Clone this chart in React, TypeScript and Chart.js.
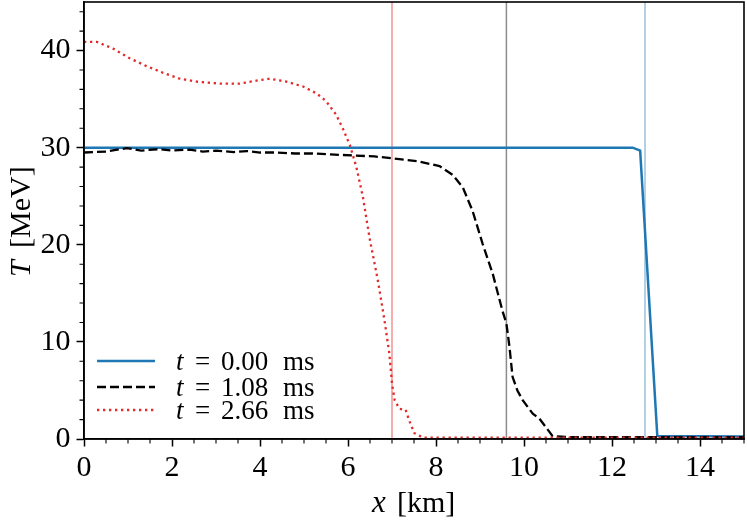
import { useEffect, useRef } from 'react';
import { Chart, registerables } from 'chart.js';

Chart.register(...registerables);

// t = 0.00 ms
const blueX = [0, 12.47, 12.64, 13.03, 15];
const blueY = [30, 30, 29.7, 0.3, 0.25];

// t = 1.08 ms
const blackX = [
  0, 0.5, 0.97, 1.3, 1.7, 2.0, 2.4, 2.7, 3.0, 3.4, 3.7, 4.0, 4.4, 4.8, 5.2, 5.6, 6.1, 6.6, 7.0,
  7.6, 8.08, 8.38, 8.61, 8.83, 9.06, 9.29, 9.51, 9.6, 9.67, 9.74, 9.85, 9.97, 10.2, 10.35, 10.5,
  10.65, 11, 15,
];
const blackY = [
  29.5, 29.6, 29.95, 29.7, 29.85, 29.7, 29.8, 29.6, 29.7, 29.55, 29.65, 29.5, 29.5, 29.4, 29.4,
  29.3, 29.2, 29.1, 28.9, 28.6, 28.1, 27.2, 25.9, 23.5, 20.1, 17.0, 13.2, 11.9, 9.5, 6.4, 5.0,
  4.0, 2.6, 2.1, 1.2, 0.3, 0.2, 0.2,
];

// t = 2.66 ms
const redX = [
  0, 0.29, 0.66, 1.04, 1.42, 1.8, 2.18, 2.56, 3.09, 3.54, 3.92, 4.22, 4.6, 4.98, 5.28, 5.5, 5.73,
  5.88, 6.04, 6.19, 6.34, 6.49, 6.68, 6.83, 6.94, 7.0, 7.06, 7.17, 7.31, 7.4, 7.51, 7.7, 15,
];
const redY = [
  40.9, 40.9, 40.2, 39.2, 38.4, 37.7, 37.1, 36.8, 36.6, 36.6, 36.9, 37.1, 36.8, 36.3, 35.6, 34.8,
  33.4, 32.0, 30.3, 28.0, 24.9, 20.7, 16.3, 12.2, 8.8, 5.7, 4.0, 3.1, 3.0, 1.8, 0.6, 0.15, 0.15,
];

// shock front positions (vertical lines)
const markerX = [7.0, 9.6, 12.75];
const markerColors = ['rgba(230,40,40,0.5)', 'rgba(0,0,0,0.45)', 'rgba(31,119,180,0.45)'];

const legendTimes = ['0.00', '1.08', '2.66'];
const seriesColors = ['#1f77b4', '#000000', '#e32b2b'];
const seriesDash = [[], [9, 4], [2.3, 3.7]];
const seriesWidth = [2.5, 2.3, 2.3];

const X_MIN = 0;
const X_MAX = 15;
const Y_MIN = 0;
const Y_MAX = 45;

const SERIF = "'Liberation Serif', 'DejaVu Serif', serif";

const pts = (xs: number[], ys: number[]) => xs.map((x, i) => ({ x, y: ys[i] }));

const decorPlugin = {
  id: 'decor',
  afterDraw(chart: Chart) {
    const { ctx, chartArea: a } = chart;
    const xs = chart.scales.x;
    const ys = chart.scales.y;
    ctx.save();

    // frame
    ctx.strokeStyle = '#000';
    ctx.lineWidth = 1.6;
    ctx.strokeRect(a.left, a.top, a.right - a.left, a.bottom - a.top);

    // minor ticks
    ctx.lineWidth = 1.1;
    ctx.beginPath();
    for (let v = X_MIN; v <= X_MAX + 1e-9; v += 0.5) {
      if (Math.abs(v % 2) < 1e-9) continue;
      const px = xs.getPixelForValue(v);
      ctx.moveTo(px, a.bottom);
      ctx.lineTo(px, a.bottom + 4.5);
    }
    for (let v = Y_MIN; v <= Y_MAX + 1e-9; v += 2) {
      if (Math.abs(v % 10) < 1e-9) continue;
      const py = ys.getPixelForValue(v);
      ctx.moveTo(a.left, py);
      ctx.lineTo(a.left - 4.5, py);
    }
    ctx.stroke();

    // legend
    const rowY = [a.bottom - 78, a.bottom - 52, a.bottom - 29];
    const lx0 = a.left + 13;
    const lx1 = a.left + 71;
    const tx = a.left + 92;
    legendTimes.forEach((lbl, i) => {
      const y = rowY[i];
      ctx.strokeStyle = seriesColors[i];
      ctx.lineWidth = seriesWidth[i];
      ctx.setLineDash(seriesDash[i]);
      ctx.lineCap = 'butt';
      ctx.beginPath();
      ctx.moveTo(lx0, y);
      ctx.lineTo(lx1, y);
      ctx.stroke();
      ctx.setLineDash([]);

      ctx.fillStyle = '#000';
      ctx.textBaseline = 'alphabetic';
      ctx.textAlign = 'left';
      const base = y + 9;
      ctx.font = `italic 27px ${SERIF}`;
      ctx.fillText('t', tx, base);
      ctx.font = `27px ${SERIF}`;
      ctx.fillText('=', tx + 19, base);
      ctx.fillText(lbl, tx + 45, base);
      ctx.fillText('ms', tx + 107, base);
    });

    // x axis title
    ctx.fillStyle = '#000';
    ctx.textBaseline = 'alphabetic';
    ctx.textAlign = 'left';
    ctx.font = `italic 31px ${SERIF}`;
    ctx.fillText('x', 372, 512);
    ctx.font = `30px ${SERIF}`;
    ctx.fillText('[km]', 397, 512);

    // y axis title
    ctx.translate(30, 277);
    ctx.rotate(-Math.PI / 2);
    ctx.font = `italic 30px ${SERIF}`;
    ctx.fillText('T', 0, 0);
    ctx.font = `30px ${SERIF}`;
    ctx.fillText('[MeV]', 29, 0);

    ctx.restore();
  },
};

export default function App() {
  const canvasRef = useRef<HTMLCanvasElement>(null);
  const chartRef = useRef<Chart | null>(null);

  useEffect(() => {
    document.body.style.margin = '0';
    if (!canvasRef.current) return;
    chartRef.current?.destroy();

    const series = [pts(blueX, blueY), pts(blackX, blackY), pts(redX, redY)];

    chartRef.current = new Chart(canvasRef.current, {
      type: 'line',
      data: {
        datasets: [
          ...markerX.map((mx, i) => ({
            label: `marker${i}`,
            data: [
              { x: mx, y: Y_MIN },
              { x: mx, y: Y_MAX },
            ],
            borderColor: markerColors[i],
            borderWidth: 1.5,
            pointRadius: 0,
            order: 10,
          })),
          ...series.map((d, i) => ({
            label: `t = ${legendTimes[i]} ms`,
            data: d,
            borderColor: seriesColors[i],
            borderWidth: seriesWidth[i],
            borderDash: seriesDash[i],
            borderCapStyle: 'butt' as const,
            pointRadius: 0,
            tension: 0,
            order: 3 - i,
          })),
        ],
      },
      options: {
        responsive: true,
        maintainAspectRatio: false,
        animation: false,
        layout: { padding: { top: 2, right: 3, left: 0, bottom: 0 } },
        plugins: {
          legend: { display: false },
          tooltip: { enabled: false },
        },
        scales: {
          x: {
            type: 'linear',
            min: X_MIN,
            max: X_MAX,
            afterFit: (s: any) => {
              s.height = 84;
              s.paddingLeft = 0;
              s.paddingRight = 0;
            },
            grid: {
              drawOnChartArea: false,
              drawTicks: true,
              tickLength: 7.5,
              tickWidth: 1.5,
              tickColor: '#000',
            },
            border: { display: true, color: '#000', width: 1.6 },
            ticks: {
              stepSize: 2,
              includeBounds: false,
              maxRotation: 0,
              color: '#000',
              padding: 4,
              font: { family: SERIF, size: 30 },
            },
          },
          y: {
            type: 'linear',
            min: Y_MIN,
            max: Y_MAX,
            afterFit: (s: any) => {
              s.width = 84;
              s.paddingTop = 0;
              s.paddingBottom = 0;
            },
            grid: {
              drawOnChartArea: false,
              drawTicks: true,
              tickLength: 7.5,
              tickWidth: 1.5,
              tickColor: '#000',
            },
            border: { display: true, color: '#000', width: 1.6 },
            ticks: {
              stepSize: 10,
              includeBounds: false,
              color: '#000',
              padding: 6,
              font: { family: SERIF, size: 30 },
            },
          },
        },
      },
      plugins: [decorPlugin],
    });

    return () => {
      chartRef.current?.destroy();
      chartRef.current = null;
    };
  }, []);

  return (
    <div style={{ width: 747, height: 523, position: 'relative', background: '#fff' }}>
      <canvas ref={canvasRef} />
    </div>
  );
}
